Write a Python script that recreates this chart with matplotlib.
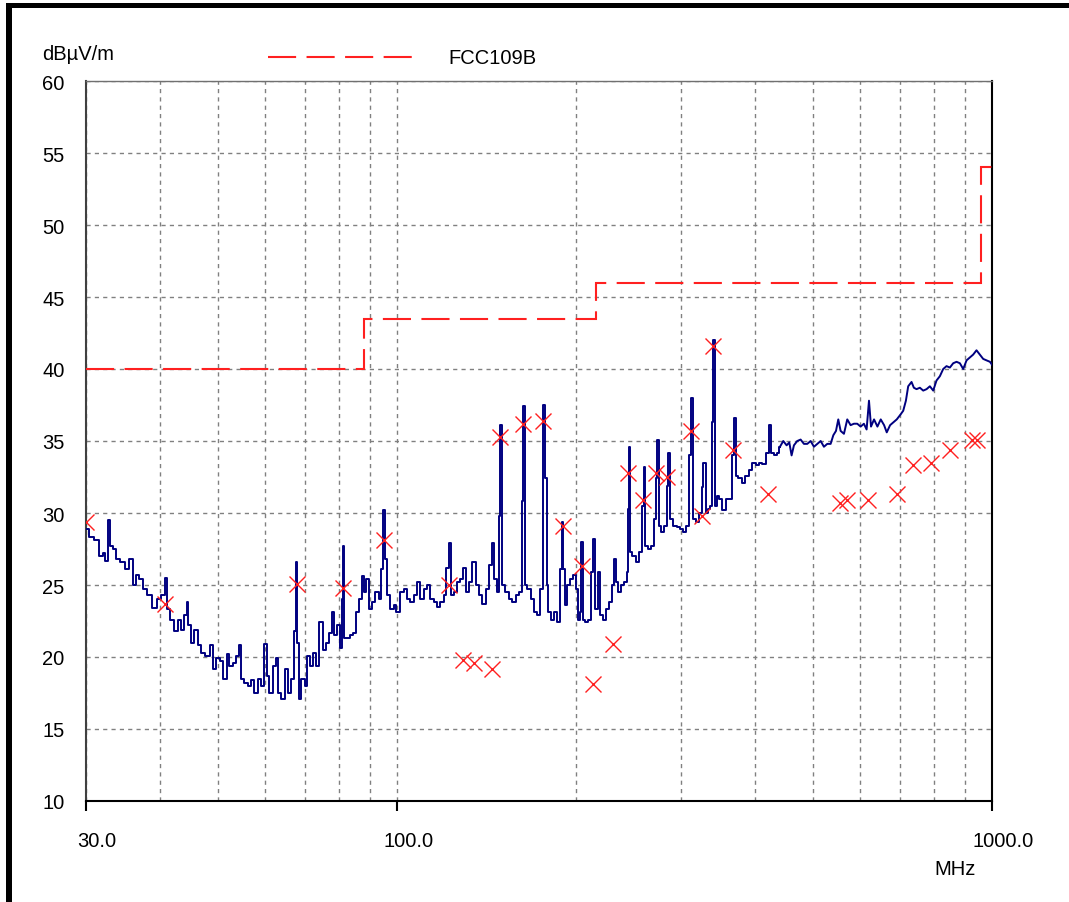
"""EMI scan, 30 MHz - 1 GHz, against the FCC Part 15 Class B limit."""

import matplotlib
matplotlib.use("Agg")
import matplotlib.pyplot as plt
import matplotlib.ticker as mticker
import matplotlib.transforms as mtrans
from matplotlib.lines import Line2D
from matplotlib.patches import Rectangle

plt.rcParams["font.family"] = ["Liberation Sans", "DejaVu Sans"]

NAVY = "#000080"
RED = "#ff2020"
GRID = "#808080"
FS = 14.5

# ── Data ──────────────────────────────────────────────────────────────────────
SCAN_MHZ = [
    30.0, 30.8, 31.2, 31.8, 32.2, 32.5, 32.75, 33.0, 33.5, 33.9, 34.6, 35.2,
    35.7, 36.2, 36.6, 37.1, 37.8, 38.3, 39.1, 39.8, 40.5, 40.9, 41.2, 42.0,
    42.4, 43.1, 43.6, 44.2, 44.4, 44.8, 45.3, 45.9, 46.5, 47.1, 48.1, 48.9,
    49.3, 50.0, 50.6, 51.5, 51.9, 52.6, 53.3, 54.0, 54.5, 55.0, 55.7, 56.5,
    57.2, 57.9, 58.7, 59.5, 60.2, 60.6, 61.4, 62.2, 62.8, 63.4, 64.4, 65.1,
    65.9, 66.8, 67.6, 67.8, 68.2, 68.5, 69.2, 69.8, 70.3, 71.0, 71.7, 72.6,
    73.6, 74.5, 75.5, 76.2, 77.2, 78.0, 78.7, 79.7, 80.4, 81.0, 81.3, 81.8,
    82.9, 83.9, 85.0, 85.8, 86.7, 87.6, 88.4, 89.2, 90.1, 91.3, 92.5, 93.7,
    94.3, 95.1, 95.9, 96.7, 98.0, 99.3, 100.2, 101.9, 103.2, 104.5, 105.9,
    107.3, 108.7, 110.1, 111.5, 113.0, 114.5, 116.0, 117.5, 119.0, 120.5,
    121.6, 122.6, 123.7, 125.3, 127.0, 128.6, 129.8, 131.1, 132.8, 134.9,
    136.3, 138.1, 140.2, 141.7, 143.6, 144.7, 146.4, 147.7, 148.7, 149.4,
    150.8, 152.8, 155.2, 157.2, 159.2, 161.3, 162.8, 163.4, 164.5, 166.6,
    168.8, 171.0, 173.2, 174.8, 176.4, 177.8, 178.9, 180.1, 182.4, 184.8,
    187.2, 189.0, 189.7, 190.7, 192.2, 193.9, 196.5, 199.1, 200.9, 202.5,
    203.5, 204.8, 206.1, 208.2, 210.9, 212.8, 214.5, 216.4, 218.7, 220.7,
    222.7, 225.6, 228.0, 231.0, 231.9, 234.0, 236.5, 238.7, 241.9, 244.2,
    245.1, 246.1, 247.4, 250.0, 253.3, 256.6, 258.9, 260.3, 262.7, 265.1,
    268.6, 271.4, 272.8, 274.3, 276.4, 279.3, 283.0, 284.8, 286.3, 289.3,
    293.0, 296.9, 300.6, 304.5, 308.5, 311.7, 313.3, 315.8, 319.9, 324.0,
    326.2, 328.3, 331.7, 334.6, 336.8, 339.0, 340.7, 343.3, 346.4, 349.9,
    354.4, 359.0, 363.7, 367.0, 369.4, 372.2, 377.0, 381.9, 386.9, 392.9,
    398.0, 403.2, 408.4, 413.8, 419.1, 423.0, 427.3, 432.9, 438.5, 440.1,
    445.8, 451.6, 456.3, 460.4, 464.6, 470.6, 476.8, 482.9, 489.2, 495.6,
    502.0, 508.6, 515.2, 521.8, 528.6, 535.5, 541.1, 546.7, 551.6, 556.6,
    563.8, 571.1, 578.5, 586.1, 593.6, 601.4, 609.1, 615.5, 621.2, 626.1,
    633.5, 641.8, 650.1, 658.6, 665.4, 674.1, 682.8, 691.7, 700.7, 709.2,
    716.6, 723.0, 732.4, 739.0, 746.7, 756.4, 766.3, 776.2, 786.3, 796.5,
    806.7, 817.3, 827.9, 838.6, 849.5, 860.6, 871.8, 883.1, 894.6, 906.2,
    917.8, 929.7, 941.8, 954.0, 966.5, 979.0, 992.1, 1000.0,
]
SCAN_DB = [
    28.9, 28.3, 28.1, 27.0, 27.2, 26.7, 29.5, 27.7, 27.5, 26.8, 26.6, 26.1,
    26.8, 25.0, 25.7, 25.4, 24.7, 24.3, 23.4, 24.0, 24.3, 25.5, 23.3, 22.6,
    21.8, 22.6, 21.9, 22.9, 23.8, 22.2, 21.0, 21.9, 20.8, 20.3, 20.1, 20.8,
    19.2, 19.9, 19.7, 18.5, 20.2, 19.4, 19.6, 20.1, 20.8, 18.5, 18.2, 18.0,
    18.4, 17.5, 18.5, 18.0, 20.9, 18.7, 17.5, 19.4, 19.9, 17.5, 17.1, 19.2,
    17.5, 18.5, 21.8, 26.6, 21.0, 17.1, 18.5, 18.5, 18.0, 20.1, 19.4, 20.3,
    19.4, 22.4, 20.5, 21.0, 21.7, 23.1, 21.5, 22.2, 20.6, 24.0, 27.7, 21.3,
    21.3, 21.5, 21.7, 23.1, 24.0, 25.6, 24.5, 25.4, 23.3, 23.8, 24.5, 24.0,
    26.1, 30.2, 26.8, 24.3, 23.3, 23.6, 23.1, 24.5, 24.7, 24.0, 23.8,
    24.3, 25.2, 24.0, 24.7, 25.0, 24.0, 23.8, 23.5, 23.8, 24.3,
    26.2, 27.9, 24.3, 24.5, 25.2, 25.4, 26.2, 24.5, 25.2, 26.6,
    25.0, 24.3, 23.7, 24.7, 26.4, 27.9, 25.4, 24.5, 29.8, 36.1,
    25.0, 24.5, 24.0, 23.8, 24.3, 24.5, 30.8, 37.4, 25.0, 24.7,
    24.0, 23.1, 22.9, 24.7, 37.5, 32.4, 25.0, 23.1, 22.6, 23.1,
    22.4, 26.1, 29.4, 26.1, 23.6, 25.0, 25.4, 25.7, 24.7, 22.6,
    23.1, 28.0, 22.6, 22.4, 22.6, 25.9, 28.2, 23.3, 25.9, 22.9,
    22.6, 23.3, 23.8, 25.0, 26.8, 25.2, 24.5, 25.0, 25.2, 25.9,
    30.3, 34.6, 27.3, 27.0, 26.6, 27.3, 30.5, 33.2, 27.7, 27.5,
    27.7, 29.6, 32.4, 35.1, 29.1, 28.7, 29.1, 31.9, 34.2, 29.6,
    29.1, 29.0, 28.9, 28.7, 29.1, 34.0, 38.0, 29.6, 29.4, 30.0,
    31.8, 33.5, 30.0, 30.3, 30.5, 36.3, 42.0, 30.5, 31.2, 31.0,
    30.2, 31.0, 31.0, 34.0, 36.6, 32.6, 32.4, 32.1, 32.6, 33.0,
    33.5, 33.3, 33.5, 33.4, 34.2, 36.1, 34.2, 34.0, 34.2, 34.6,
    35.0, 34.7, 34.9, 34.0, 34.7, 35.0, 35.1, 34.8, 34.8, 35.0,
    34.6, 34.8, 35.0, 34.6, 34.8, 34.8, 35.4, 35.7, 36.5, 35.7,
    35.5, 36.5, 36.1, 36.2, 36.2, 36.0, 36.2, 35.8, 37.8, 36.0,
    36.5, 36.0, 36.5, 36.1, 35.6, 36.1, 36.3, 36.5, 36.8, 37.1,
    37.8, 38.8, 39.1, 38.7, 38.6, 38.7, 38.5, 38.6, 38.8, 38.5,
    39.2, 39.5, 40.0, 40.2, 40.1, 40.4, 40.5, 40.4, 40.0, 40.6,
    40.8, 41.0, 41.3, 41.0, 40.7, 40.6, 40.5, 40.3,
]

PEAK_MHZ = [
    30.0, 40.8, 67.8, 81.1, 95.1, 122.1, 129.3, 134.8, 144.3, 149.1, 162.7,
    175.8, 189.7, 204.2, 213.6, 230.8, 244.7, 258.6, 272.3, 284.5, 311.4,
    324.9, 339.2, 367.2, 420.5, 555.2, 571.1, 619.5, 691.7, 737.4, 789.5,
    849.5, 924.2, 944.4,
]
PEAK_DB = [
    29.4, 23.7, 25.1, 24.8, 28.1, 25.0, 19.8, 19.6, 19.2, 35.3, 36.2,
    36.4, 29.1, 26.3, 18.1, 20.9, 32.8, 30.9, 32.8, 32.5, 35.7,
    29.8, 41.6, 34.4, 31.3, 30.7, 30.9, 30.9, 31.3, 33.3, 33.5,
    34.4, 35.1, 35.1,
]

LIMIT_EDGES_MHZ = [30, 88, 216, 960, 1000]
LIMIT_DB = [40, 43.5, 46, 54]
LIMIT_NAME = "FCC109B"

X_MAJOR = [30, 100, 1000]
X_MAJOR_LABELS = ["30.0", "100.0", "1000.0"]
X_MINOR = [40, 50, 60, 70, 80, 90, 200, 300, 400, 500, 600, 700, 800, 900]
Y_TICKS = [10, 15, 20, 25, 30, 35, 40, 45, 50, 55, 60]

# ── Figure ────────────────────────────────────────────────────────────────────
W, H = 1069, 903
fig = plt.figure(figsize=(W / 100, H / 100), dpi=100)
fig.patch.set_facecolor("white")


def fx(px):
    return px / W


def fy(py):
    return 1 - py / H


ax = fig.add_axes([fx(86), fy(802), fx(992) - fx(86), fy(82) - fy(802)])

ax.set_xscale("log")
ax.set_xlim(30, 1000)
ax.set_ylim(10, 60)

# grid
ax.xaxis.set_major_locator(mticker.FixedLocator(X_MAJOR))
ax.xaxis.set_major_formatter(mticker.FixedFormatter(X_MAJOR_LABELS))
ax.xaxis.set_minor_locator(mticker.FixedLocator(X_MINOR))
ax.xaxis.set_minor_formatter(mticker.NullFormatter())
ax.set_yticks(Y_TICKS)
ax.set_yticklabels([str(v) for v in Y_TICKS])
ax.grid(True, which="both", color=GRID, lw=1.0, dashes=(3, 3))
ax.set_axisbelow(True)

ax.tick_params(axis="x", which="major", direction="out", length=7.5,
               width=1.5, color="black", pad=14, labelsize=FS)
ax.tick_params(axis="x", which="minor", length=0)
ax.tick_params(axis="y", length=0, pad=31.5, labelsize=FS)
for lab in ax.get_yticklabels():
    lab.set_horizontalalignment("left")
shift = mtrans.ScaledTranslation(0.11, 0, fig.dpi_scale_trans)
for lab in ax.get_xticklabels():
    lab.set_transform(lab.get_transform() + shift)

ax.spines["left"].set_color("#404040")
ax.spines["left"].set_linewidth(1.5)
ax.spines["bottom"].set_color("black")
ax.spines["bottom"].set_linewidth(1.5)
ax.spines["top"].set_color("#707070")
ax.spines["top"].set_linewidth(1.0)
ax.spines["right"].set_color("black")
ax.spines["right"].set_linewidth(1.5)

# scan trace: sparse low-frequency bins show as steps, the dense top end
# reads as a plain noisy line
split = next(i for i, f in enumerate(SCAN_MHZ) if f >= 440)
ax.plot(SCAN_MHZ[:split + 1], SCAN_DB[:split + 1], color=NAVY, lw=1.4,
        drawstyle="steps-mid", zorder=3)
ax.plot(SCAN_MHZ[split:], SCAN_DB[split:], color=NAVY, lw=1.4, zorder=3)

# limit line
ax.stairs(LIMIT_DB, LIMIT_EDGES_MHZ, baseline=None, color=RED, lw=1.5,
          linestyle=(0, (13.5, 5)), zorder=4)

# peak markers
ax.plot(PEAK_MHZ, PEAK_DB, ls="none", marker="x", ms=12, mew=1.0,
        color=RED, zorder=5)

# legend, drawn by hand like the instrument software does
fig.add_artist(Line2D([fx(268), fx(415)], [fy(58), fy(58)], color=RED,
                      lw=1.5, linestyle=(0, (13.5, 5))))
fig.text(fx(448), fy(58), LIMIT_NAME, fontsize=FS, ha="left", va="center")

# axis units
fig.text(fx(42), fy(55), "dBµV/m", fontsize=FS, ha="left", va="center")
fig.text(fx(955), fy(870), "MHz", fontsize=FS, ha="center", va="center")

# black window frame (top and left edges)
fig.add_artist(Rectangle((fx(6), fy(9)), 1 - fx(6), 5 / H,
                         transform=fig.transFigure, color="black", lw=0))
fig.add_artist(Rectangle((fx(6), 0), 6 / W, fy(4),
                         transform=fig.transFigure, color="black", lw=0))

fig.savefig("out.png", dpi=100, facecolor="white")
